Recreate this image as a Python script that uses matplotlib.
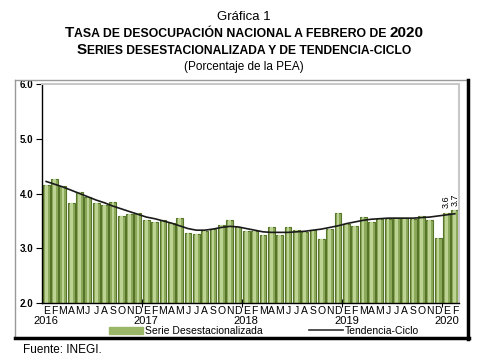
import matplotlib
matplotlib.use('Agg')
import matplotlib.pyplot as plt
from matplotlib.lines import Line2D
from matplotlib.patches import Patch
from matplotlib.offsetbox import TextArea, HPacker, AnchoredOffsetbox

plt.rcParams['font.family'] = ['Liberation Sans', 'DejaVu Sans']

months = ['E', 'F', 'M', 'A', 'M', 'J', 'J', 'A', 'S', 'O', 'N', 'D'] * 4 + ['E', 'F']
years = ['2016', '2017', '2018', '2019', '2020']

serie = [4.15, 4.27, 4.13, 3.82, 4.02, 3.94, 3.82, 3.79, 3.85, 3.59, 3.62, 3.65,
         3.52, 3.48, 3.52, 3.47, 3.56, 3.27, 3.26, 3.32, 3.35, 3.42, 3.51, 3.38,
         3.31, 3.31, 3.24, 3.39, 3.24, 3.38, 3.34, 3.30, 3.33, 3.16, 3.35, 3.65,
         3.45, 3.41, 3.57, 3.48, 3.54, 3.54, 3.56, 3.56, 3.53, 3.58, 3.52, 3.18,
         3.65, 3.69]

tendencia = [4.22, 4.17, 4.12, 4.06, 4.00, 3.94, 3.88, 3.83, 3.77, 3.72, 3.67, 3.62,
             3.57, 3.54, 3.50, 3.46, 3.41, 3.36, 3.33, 3.33, 3.35, 3.38, 3.40, 3.39,
             3.36, 3.33, 3.30, 3.29, 3.29, 3.29, 3.30, 3.31, 3.33, 3.35, 3.38, 3.41,
             3.45, 3.48, 3.51, 3.53, 3.54, 3.55, 3.55, 3.55, 3.55, 3.56, 3.57, 3.59,
             3.61, 3.63]

etiquetas = {48: '3.6', 49: '3.7'}

W, H = 484, 361
CX = 244
fig = plt.figure(figsize=(W / 100, H / 100), dpi=100)
ax = fig.add_axes([42 / W, 1 - 303 / H, (459 - 42) / W, (303 - 84) / H])

x = list(range(len(serie)))
ax.bar(x, serie, width=0.82, color='#8cab5a', edgecolor='#56742a', linewidth=0.8, zorder=2)
ax.bar(x, [v - 2.0 for v in serie], bottom=2.0, width=0.32, color='#bcd393', linewidth=0, zorder=2)
ax.plot(x, tendencia, color='#1a1a1a', linewidth=1.2, zorder=3)

for i, txt in etiquetas.items():
    ax.annotate(txt, (i, serie[i]), xytext=(0, 3), textcoords='offset points',
                rotation=90, ha='center', va='bottom', fontsize=6.5)

ax.set_xlim(-0.5, len(serie) - 0.5)
ax.set_ylim(2.0, 6.0)
ax.set_yticks([2, 3, 4, 5, 6])
ax.set_yticklabels(['%.1f' % v for v in [2, 3, 4, 5, 6]], fontsize=7, fontweight='bold')
ax.tick_params(axis='y', length=4, width=0.8, pad=2)

ax.set_xticks(x)
ax.set_xticklabels(months, fontsize=7.5)
ax.tick_params(axis='x', which='major', length=0, pad=2)
ax.set_xticks([11.5, 23.5, 35.5, 47.5], minor=True)
ax.tick_params(axis='x', which='minor', length=6, direction='inout', width=0.8)

for k, y in enumerate(years):
    ax.text(k * 12, -0.058, y, transform=ax.get_xaxis_transform(), ha='center', va='top', fontsize=8)

ax.spines['top'].set_color('#c8c8c8')
ax.spines['right'].set_color('#c8c8c8')
ax.spines['top'].set_linewidth(1.5)
ax.spines['right'].set_linewidth(1.5)
ax.spines['left'].set_linewidth(1.0)
ax.spines['bottom'].set_linewidth(1.0)

# leyenda
handles = [Patch(facecolor='#9ab768', edgecolor='#9ab768'),
           Line2D([0], [0], color='#333333', linewidth=1.2)]
fig.legend(handles, ['Serie Desestacionalizada', 'Tendencia-Ciclo'], loc='center',
           bbox_to_anchor=(264 / W, 1 - 331 / H), ncol=2, frameon=False, fontsize=7.5,
           handlelength=3.2, handleheight=0.7, handletextpad=0.2, columnspacing=4.5,
           borderpad=0)

# marco
def px_line(xs, ys, **kw):
    fig.add_artist(Line2D([v / W for v in xs], [1 - v / H for v in ys], transform=fig.transFigure, **kw))

px_line([15, 15], [80, 338], color='#9a9a9a', linewidth=1.0)
px_line([15, 468], [80, 80], color='#9a9a9a', linewidth=1.0)
px_line([468, 468], [80, 339], color='black', linewidth=2.5)
px_line([15, 469], [338, 338], color='black', linewidth=2.5)

# titulos
fig.text(CX / W, 1 - 17 / H, 'Gráfica 1', ha='center', va='center', fontsize=9.5)


def versalitas(partes, y):
    cajas = [TextArea(t, textprops=dict(fontsize=s, fontweight='bold')) for t, s in partes]
    fila = HPacker(children=cajas, align='baseline', pad=0, sep=0)
    ab = AnchoredOffsetbox(loc='center', child=fila, frameon=False, pad=0, borderpad=0,
                           bbox_to_anchor=(CX / W, 1 - y / H), bbox_transform=fig.transFigure)
    fig.add_artist(ab)


versalitas([('T', 11), ('ASA DE DESOCUPACIÓN NACIONAL A FEBRERO DE ', 8.8), ('2020', 11)], 33)
versalitas([('S', 11), ('ERIES DESESTACIONALIZADA Y DE TENDENCIA-CICLO', 8.7)], 50)
fig.text(CX / W, 1 - 67 / H, '(Porcentaje de la PEA)', ha='center', va='center', fontsize=8.5)
fig.text(23 / W, 1 - 350 / H, 'Fuente: INEGI.', ha='left', va='center', fontsize=8.5)

fig.savefig('out.png', dpi=100)
